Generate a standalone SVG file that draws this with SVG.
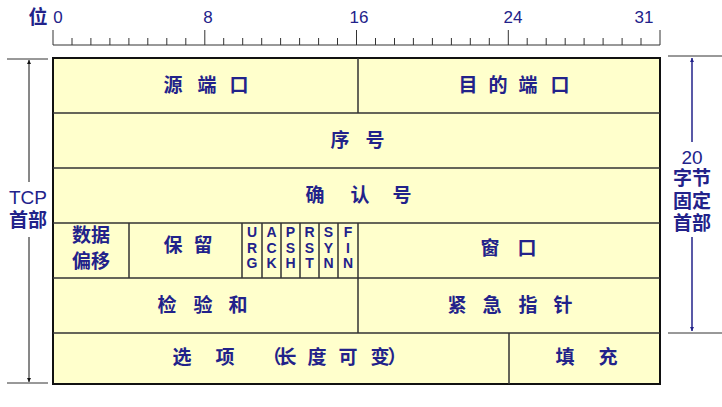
<svg xmlns="http://www.w3.org/2000/svg" width="722" height="407" viewBox="0 0 722 407">
<style>
.cn{font-family:"Noto Sans CJK SC","Liberation Sans",sans-serif;font-size:19px;font-weight:700;fill:#22228a;text-anchor:middle}
.lbl{font-family:"Liberation Sans","Noto Sans CJK SC",sans-serif;font-size:17px;fill:#22228a;text-anchor:middle}
.side{font-family:"Liberation Sans","Noto Sans CJK SC",sans-serif;font-size:19px;fill:#22228a;text-anchor:middle}
.flag{font-family:"Liberation Sans",sans-serif;font-size:14px;font-weight:700;fill:#22228a;text-anchor:middle}
.grid{stroke:#333;stroke-width:1.5;fill:none}
.tick{stroke:#333;stroke-width:1}
</style>
<defs>
<marker id="ab" viewBox="0 0 10 10" refX="10" refY="5" markerWidth="4" markerHeight="9" orient="auto" markerUnits="userSpaceOnUse"><path d="M0,0 L10,5 L0,10 z" fill="#111"/></marker>
<marker id="an" viewBox="0 0 10 10" refX="10" refY="5" markerWidth="4" markerHeight="9" orient="auto" markerUnits="userSpaceOnUse"><path d="M0,0 L10,5 L0,10 z" fill="#22228a"/></marker>
</defs>
<rect width="722" height="407" fill="#fff"/>
<g id="ruler">
<text class="side" x="38" y="24" font-weight="700">位</text>
<text class="lbl" x="58" y="23">0</text>
<text class="lbl" x="208" y="23">8</text>
<text class="lbl" x="359" y="23">16</text>
<text class="lbl" x="513" y="23">24</text>
<text class="lbl" x="644" y="23">31</text>
<line class="tick" x1="53" y1="45" x2="660" y2="45"/>
<path class="tick" d="M53,30V45 M204.8,30V45 M356.5,30V45 M508.3,30V45 M660,30V45"/>
<path class="tick" d="M72,38V45 M90.9,38V45 M109.9,38V45 M128.9,38V45 M147.8,38V45 M166.8,38V45 M185.8,38V45 M223.7,38V45 M242.7,38V45 M261.7,38V45 M280.6,38V45 M299.6,38V45 M318.6,38V45 M337.5,38V45 M375.5,38V45 M394.5,38V45 M413.4,38V45 M432.4,38V45 M451.4,38V45 M470.3,38V45 M489.3,38V45 M527.2,38V45 M546.2,38V45 M565.2,38V45 M584.1,38V45 M603.1,38V45 M622.1,38V45 M641,38V45"/>
</g>
<g id="table">
<rect x="53" y="58" width="607" height="326" fill="#ffffcc" stroke="#111" stroke-width="2"/>
</g>
<g id="connectors">
<path class="grid" d="M53,113H660 M53,168H660 M53,223H660 M53,278H660 M53,333H660"/>
<path class="grid" d="M358,58V113 M358,278V333 M129,223V278 M242,223V278 M262,223V278 M281,223V278 M300,223V278 M319,223V278 M338,223V278 M358,223V278 M509,333V384"/>
<path class="tick" d="M7,59H48 M7,383H48 M668,56H722 M668,333H722"/>
<line x1="29" y1="182" x2="29" y2="60" stroke="#111" stroke-width="1" marker-end="url(#ab)"/>
<line x1="29" y1="237" x2="29" y2="382" stroke="#111" stroke-width="1" marker-end="url(#ab)"/>
<line x1="692" y1="142" x2="692" y2="58" stroke="#22228a" stroke-width="1.5" marker-end="url(#an)"/>
<line x1="692" y1="237" x2="692" y2="331" stroke="#22228a" stroke-width="1.5" marker-end="url(#an)"/>
</g>
<g id="src-port"><text class="cn" x="173 207 239" y="92">源端口</text></g>
<g id="dst-port"><text class="cn" x="468 498 528 560" y="92">目的端口</text></g>
<g id="seq"><text class="cn" x="340 375" y="147">序号</text></g>
<g id="ack"><text class="cn" x="315 360 402" y="202">确认号</text></g>
<g id="offset"><text class="cn" x="91" y="242" font-size="18">数据</text><text class="cn" x="91" y="268" font-size="18">偏移</text></g>
<g id="reserved"><text class="cn" x="173 203" y="252">保留</text></g>
<g id="flags">
<text class="flag" x="252" y="237">U</text><text class="flag" x="252" y="253">R</text><text class="flag" x="252" y="268">G</text>
<text class="flag" x="271.5" y="237">A</text><text class="flag" x="271.5" y="253">C</text><text class="flag" x="271.5" y="268">K</text>
<text class="flag" x="290.5" y="237">P</text><text class="flag" x="290.5" y="253">S</text><text class="flag" x="290.5" y="268">H</text>
<text class="flag" x="309.5" y="237">R</text><text class="flag" x="309.5" y="253">S</text><text class="flag" x="309.5" y="268">T</text>
<text class="flag" x="328.5" y="237">S</text><text class="flag" x="328.5" y="253">Y</text><text class="flag" x="328.5" y="268">N</text>
<text class="flag" x="348" y="237">F</text><text class="flag" x="348" y="253">I</text><text class="flag" x="348" y="268">N</text>
</g>
<g id="window"><text class="cn" x="490 527" y="255">窗口</text></g>
<g id="checksum"><text class="cn" x="167 203 238" y="312">检验和</text></g>
<g id="urgent"><text class="cn" x="457 492 528 563" y="312">紧急指针</text></g>
<g id="options"><text class="cn" x="182 225 272 287 317 348 380 397" y="364">选项（长度可变）</text></g>
<g id="padding"><text class="cn" x="565 608" y="364">填充</text></g>
<g id="tcp-header-label"><text class="side" x="28" y="204">TCP</text><text class="side" x="28" y="227" font-weight="700">首部</text></g>
<g id="fixed-label">
<text class="side" x="692" y="164">20</text>
<text class="side" x="692" y="185" font-weight="700">字节</text>
<text class="side" x="692" y="208" font-weight="700">固定</text>
<text class="side" x="692" y="230" font-weight="700">首部</text>
</g>
</svg>
